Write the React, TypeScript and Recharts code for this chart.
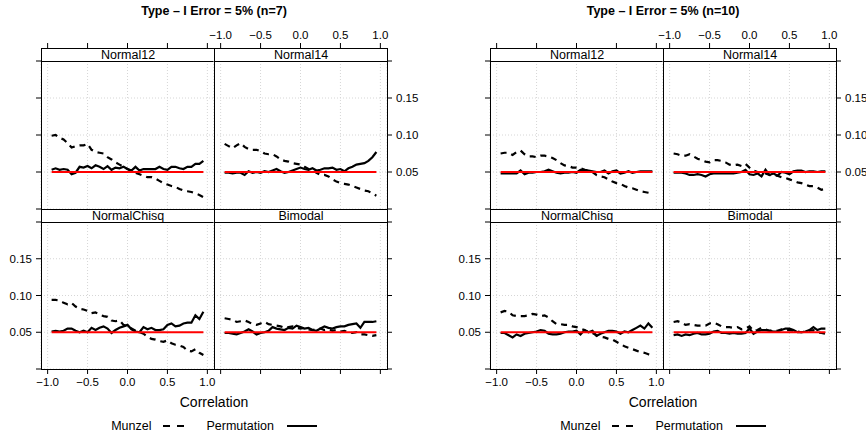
import React from 'react';
import { LineChart, Line, XAxis, YAxis, CartesianGrid, ReferenceLine } from 'recharts';

const correlation = [-0.95, -0.9, -0.85, -0.8, -0.75, -0.7, -0.65, -0.6, -0.55, -0.5, -0.45, -0.4, -0.35, -0.3, -0.25, -0.2, -0.15, -0.1, -0.05, 0, 0.05, 0.1, 0.15, 0.2, 0.25, 0.3, 0.35, 0.4, 0.45, 0.5, 0.55, 0.6, 0.65, 0.7, 0.75, 0.8, 0.85, 0.9, 0.95];

const xTicks = [-1, -0.5, 0, 0.5, 1];
const yTicks = [0, 0.05, 0.1, 0.15, 0.2];
const nominalLevel = 0.05;
const panelNames = ['Normal12', 'Normal14', 'NormalChisq', 'Bimodal'];
const groupTitles = ['Type \u2013 I Error = 5% (n=7)', 'Type \u2013 I Error = 5% (n=10)'];
const seriesNames = ['Munzel', 'Permutation'];

// n = 7
const n7Normal12Munzel = [0.099, 0.100, 0.096, 0.094, 0.089, 0.083, 0.085, 0.086, 0.086, 0.088, 0.080, 0.077, 0.076, 0.075, 0.070, 0.067, 0.063, 0.060, 0.057, 0.054, 0.051, 0.049, 0.047, 0.045, 0.043, 0.043, 0.041, 0.038, 0.035, 0.033, 0.031, 0.030, 0.027, 0.025, 0.024, 0.023, 0.021, 0.019, 0.016];
const n7Normal12Perm = [0.053, 0.055, 0.053, 0.054, 0.053, 0.047, 0.049, 0.057, 0.056, 0.058, 0.055, 0.059, 0.057, 0.054, 0.058, 0.053, 0.056, 0.055, 0.057, 0.054, 0.052, 0.057, 0.052, 0.054, 0.054, 0.054, 0.054, 0.057, 0.054, 0.053, 0.057, 0.057, 0.055, 0.054, 0.057, 0.057, 0.061, 0.061, 0.065];
const n7Normal14Munzel = [0.088, 0.085, 0.082, 0.086, 0.089, 0.084, 0.081, 0.080, 0.080, 0.078, 0.075, 0.074, 0.074, 0.071, 0.067, 0.065, 0.064, 0.062, 0.061, 0.060, 0.057, 0.054, 0.052, 0.049, 0.046, 0.046, 0.044, 0.040, 0.037, 0.035, 0.034, 0.033, 0.031, 0.029, 0.027, 0.025, 0.024, 0.021, 0.018];
const n7Normal14Perm = [0.049, 0.049, 0.048, 0.049, 0.049, 0.046, 0.051, 0.049, 0.050, 0.049, 0.051, 0.050, 0.052, 0.054, 0.051, 0.049, 0.050, 0.052, 0.054, 0.056, 0.054, 0.053, 0.055, 0.052, 0.053, 0.055, 0.055, 0.056, 0.053, 0.054, 0.051, 0.055, 0.057, 0.060, 0.061, 0.062, 0.065, 0.070, 0.077];
const n7ChisqMunzel = [0.094, 0.094, 0.093, 0.090, 0.088, 0.090, 0.085, 0.082, 0.081, 0.079, 0.076, 0.077, 0.074, 0.072, 0.071, 0.066, 0.065, 0.066, 0.060, 0.058, 0.055, 0.052, 0.050, 0.048, 0.044, 0.041, 0.040, 0.038, 0.037, 0.039, 0.035, 0.033, 0.032, 0.030, 0.025, 0.024, 0.027, 0.022, 0.019];
const n7ChisqPerm = [0.051, 0.052, 0.051, 0.052, 0.055, 0.055, 0.052, 0.050, 0.052, 0.050, 0.056, 0.053, 0.056, 0.058, 0.055, 0.049, 0.053, 0.056, 0.058, 0.060, 0.054, 0.051, 0.050, 0.057, 0.054, 0.056, 0.053, 0.053, 0.054, 0.060, 0.062, 0.058, 0.059, 0.062, 0.063, 0.063, 0.073, 0.068, 0.078];
const n7BimodalMunzel = [0.069, 0.068, 0.067, 0.064, 0.065, 0.066, 0.064, 0.061, 0.060, 0.062, 0.064, 0.061, 0.060, 0.059, 0.058, 0.056, 0.057, 0.058, 0.056, 0.055, 0.056, 0.054, 0.053, 0.054, 0.055, 0.053, 0.054, 0.052, 0.053, 0.051, 0.052, 0.050, 0.049, 0.050, 0.047, 0.047, 0.046, 0.045, 0.046];
const n7BimodalPerm = [0.049, 0.049, 0.048, 0.047, 0.049, 0.051, 0.054, 0.051, 0.047, 0.049, 0.050, 0.052, 0.057, 0.055, 0.054, 0.053, 0.056, 0.055, 0.059, 0.057, 0.055, 0.056, 0.053, 0.052, 0.055, 0.058, 0.056, 0.055, 0.057, 0.058, 0.058, 0.060, 0.061, 0.062, 0.056, 0.064, 0.064, 0.064, 0.065];

// n = 10
const n10Normal12Munzel = [0.075, 0.076, 0.076, 0.073, 0.077, 0.079, 0.074, 0.071, 0.071, 0.070, 0.072, 0.072, 0.071, 0.069, 0.066, 0.062, 0.059, 0.058, 0.056, 0.056, 0.055, 0.053, 0.052, 0.050, 0.046, 0.044, 0.043, 0.040, 0.037, 0.035, 0.034, 0.031, 0.029, 0.028, 0.026, 0.024, 0.023, 0.022, 0.021];
const n10Normal12Perm = [0.048, 0.048, 0.048, 0.048, 0.048, 0.052, 0.047, 0.049, 0.049, 0.050, 0.050, 0.051, 0.053, 0.051, 0.049, 0.048, 0.049, 0.049, 0.050, 0.049, 0.053, 0.053, 0.052, 0.051, 0.050, 0.050, 0.052, 0.048, 0.051, 0.052, 0.048, 0.049, 0.051, 0.049, 0.050, 0.051, 0.051, 0.051, 0.051];
const n10Normal14Munzel = [0.075, 0.074, 0.072, 0.072, 0.074, 0.071, 0.068, 0.066, 0.064, 0.063, 0.066, 0.066, 0.065, 0.063, 0.060, 0.059, 0.060, 0.058, 0.061, 0.056, 0.052, 0.050, 0.049, 0.048, 0.046, 0.045, 0.045, 0.043, 0.042, 0.040, 0.038, 0.036, 0.035, 0.033, 0.031, 0.031, 0.029, 0.026, 0.027];
const n10Normal14Perm = [0.049, 0.049, 0.049, 0.048, 0.046, 0.046, 0.047, 0.046, 0.044, 0.047, 0.048, 0.048, 0.048, 0.048, 0.048, 0.048, 0.049, 0.050, 0.053, 0.047, 0.046, 0.048, 0.044, 0.053, 0.046, 0.048, 0.045, 0.050, 0.049, 0.047, 0.051, 0.052, 0.052, 0.050, 0.051, 0.051, 0.050, 0.051, 0.051];
const n10ChisqMunzel = [0.077, 0.079, 0.078, 0.073, 0.072, 0.072, 0.072, 0.073, 0.075, 0.074, 0.072, 0.073, 0.070, 0.065, 0.061, 0.061, 0.060, 0.060, 0.058, 0.057, 0.055, 0.053, 0.050, 0.049, 0.046, 0.044, 0.043, 0.041, 0.040, 0.037, 0.034, 0.031, 0.029, 0.027, 0.025, 0.023, 0.022, 0.020, 0.018];
const n10ChisqPerm = [0.049, 0.049, 0.046, 0.043, 0.047, 0.045, 0.048, 0.049, 0.050, 0.051, 0.053, 0.052, 0.048, 0.047, 0.047, 0.048, 0.050, 0.051, 0.051, 0.052, 0.047, 0.053, 0.050, 0.052, 0.045, 0.048, 0.050, 0.052, 0.052, 0.051, 0.048, 0.051, 0.050, 0.053, 0.056, 0.059, 0.055, 0.062, 0.056];
const n10BimodalMunzel = [0.064, 0.065, 0.063, 0.060, 0.061, 0.060, 0.059, 0.059, 0.059, 0.062, 0.063, 0.061, 0.058, 0.057, 0.057, 0.056, 0.057, 0.054, 0.055, 0.058, 0.052, 0.053, 0.056, 0.054, 0.052, 0.053, 0.052, 0.054, 0.053, 0.053, 0.052, 0.051, 0.050, 0.051, 0.052, 0.053, 0.050, 0.049, 0.048];
const n10BimodalPerm = [0.046, 0.047, 0.045, 0.047, 0.046, 0.048, 0.049, 0.047, 0.047, 0.048, 0.051, 0.052, 0.049, 0.049, 0.048, 0.049, 0.048, 0.048, 0.049, 0.055, 0.048, 0.051, 0.053, 0.053, 0.052, 0.051, 0.051, 0.053, 0.055, 0.055, 0.053, 0.050, 0.050, 0.051, 0.053, 0.057, 0.053, 0.055, 0.055];

const groups = [
  [[n7Normal12Munzel, n7Normal12Perm], [n7Normal14Munzel, n7Normal14Perm], [n7ChisqMunzel, n7ChisqPerm], [n7BimodalMunzel, n7BimodalPerm]],
  [[n10Normal12Munzel, n10Normal12Perm], [n10Normal14Munzel, n10Normal14Perm], [n10ChisqMunzel, n10ChisqPerm], [n10BimodalMunzel, n10BimodalPerm]],
];

// layout
const FONT = '"Liberation Sans", Arial, Helvetica, sans-serif';
const XD: [number, number] = [-1.083, 1.083];
const YD: [number, number] = [0, 0.2];
const PW = 173;
const STRIP = 13;
const AXW = 40;
const TOPH = 40;
const BOTH = 30;
const TICKFS = 11.5;
const groupX = [41, 490];
const rowTop = [61, 222];
const rowH = [148, 147];

const fmtX = (v: number) => v.toFixed(1).replace('-', '\u2212');
const fmtY = (v: number) => (v <= 0 || v >= 0.2 ? '' : v.toFixed(2));

type PanelProps = {
  x: number; y: number; h: number; name: string;
  munzel: number[]; perm: number[];
  side: 'left' | 'right'; vpos: 'top' | 'bottom';
  labelX: boolean; labelY: boolean;
};

function Panel({ x, y, h, name, munzel, perm, side, vpos, labelX, labelY }: PanelProps) {
  const rows = correlation.map((c, i) => ({ x: c, munzel: munzel[i], perm: perm[i] }));
  const width = AXW + PW + AXW;
  const height = TOPH + h + BOTH;
  const margin = {
    top: vpos === 'top' ? 0 : TOPH,
    bottom: vpos === 'bottom' ? 0 : BOTH,
    left: side === 'left' ? 0 : AXW,
    right: side === 'right' ? 0 : AXW,
  };
  const topTick = (p: any) => {
    const y0 = TOPH - STRIP;
    return (
      <g>
        <line x1={p.x} x2={p.x} y1={y0 - 5} y2={y0} stroke="#000" strokeWidth={1} />
        {labelX && (
          <text x={p.x} y={y0 - 9} textAnchor="middle" fontSize={TICKFS} fill="#000" fontFamily={FONT}>
            {fmtX(p.payload.value)}
          </text>
        )}
      </g>
    );
  };
  return (
    <>
      <div style={{ position: 'absolute', left: x - AXW, top: y - TOPH }}>
        <LineChart width={width} height={height} data={rows} margin={margin}>
          <CartesianGrid stroke="#d6d6d6" strokeDasharray="1 2" />
          {vpos === 'top' ? (
            <XAxis dataKey="x" type="number" domain={XD} ticks={xTicks} interval={0} allowDataOverflow
              orientation="top" height={TOPH} axisLine={false} tickLine={false} tick={topTick} />
          ) : (
            <XAxis dataKey="x" type="number" domain={XD} ticks={xTicks} interval={0} allowDataOverflow
              orientation="bottom" height={BOTH} axisLine={false} tickSize={5} tickMargin={4}
              tickLine={{ stroke: '#000' }} tick={{ fontSize: TICKFS, fill: '#000' }}
              tickFormatter={(v: number) => (labelX ? fmtX(v) : '')} />
          )}
          <YAxis type="number" domain={YD} ticks={yTicks} interval={0} allowDataOverflow
            orientation={side} width={AXW} axisLine={false} tickSize={5} tickMargin={4}
            tickLine={{ stroke: '#000' }} tick={{ fontSize: TICKFS, fill: '#000' }}
            tickFormatter={(v: number) => (labelY ? fmtY(v) : '')} />
          <Line dataKey="munzel" name={seriesNames[0]} stroke="#000" strokeWidth={2.2} strokeDasharray="6 5"
            dot={false} activeDot={false} isAnimationActive={false} />
          <Line dataKey="perm" name={seriesNames[1]} stroke="#000" strokeWidth={2.2}
            dot={false} activeDot={false} isAnimationActive={false} />
          <ReferenceLine segment={[{ x: correlation[0], y: nominalLevel }, { x: correlation[correlation.length - 1], y: nominalLevel }]}
            stroke="#ff0000" strokeWidth={1.8} ifOverflow="visible" />
        </LineChart>
      </div>
      <div style={{ position: 'absolute', left: x, top: y - STRIP, width: PW + 1, height: STRIP + 1, boxSizing: 'border-box',
        border: '1px solid #000', background: '#fff', fontSize: 12.5, lineHeight: `${STRIP - 1}px`, textAlign: 'center', color: '#000' }}>
        {name}
      </div>
      <div style={{ position: 'absolute', left: x, top: y, width: PW + 1, height: h + 1, boxSizing: 'border-box',
        border: '1px solid #000', pointerEvents: 'none' }} />
    </>
  );
}

function Group({ gi }: { gi: number }) {
  const x0 = groupX[gi];
  const cx = x0 + PW;
  const data = groups[gi];
  const panels = [0, 1, 2, 3].map((k) => {
    const col = k % 2;
    const row = Math.floor(k / 2);
    return (
      <Panel key={k} x={x0 + col * PW} y={rowTop[row]} h={rowH[row]} name={panelNames[k]}
        munzel={data[k][0]} perm={data[k][1]}
        side={col === 0 ? 'left' : 'right'} vpos={row === 0 ? 'top' : 'bottom'}
        labelX={(row === 0 && col === 1) || (row === 1 && col === 0)}
        labelY={(row === 0 && col === 1) || (row === 1 && col === 0)} />
    );
  });
  return (
    <>
      <div style={{ position: 'absolute', left: cx - 150, top: 3, width: 300, textAlign: 'center', fontWeight: 'bold', fontSize: 12.5, lineHeight: '16px' }}>
        {groupTitles[gi]}
      </div>
      {panels}
      <div style={{ position: 'absolute', left: cx - 100, top: 393, width: 200, textAlign: 'center', fontSize: 14, lineHeight: '18px' }}>
        Correlation
      </div>
      <div style={{ position: 'absolute', left: cx - 150, top: 418, width: 300, height: 16, display: 'flex', justifyContent: 'center', alignItems: 'center', fontSize: 12.5 }}>
        <span>{seriesNames[0]}</span>
        <svg width={24} height={6} style={{ marginLeft: 12 }}>
          <line x1={0} x2={24} y1={3} y2={3} stroke="#000" strokeWidth={2} strokeDasharray="7 7" />
        </svg>
        <span style={{ marginLeft: 19 }}>{seriesNames[1]}</span>
        <svg width={30} height={6} style={{ marginLeft: 13 }}>
          <line x1={0} x2={30} y1={3} y2={3} stroke="#000" strokeWidth={2} />
        </svg>
      </div>
    </>
  );
}

export default function App() {
  return (
    <div style={{ position: 'absolute', left: 0, top: 0, width: 866, height: 437, overflow: 'hidden', background: '#fff', fontFamily: FONT, color: '#000' }}>
      <Group gi={0} />
      <Group gi={1} />
    </div>
  );
}
